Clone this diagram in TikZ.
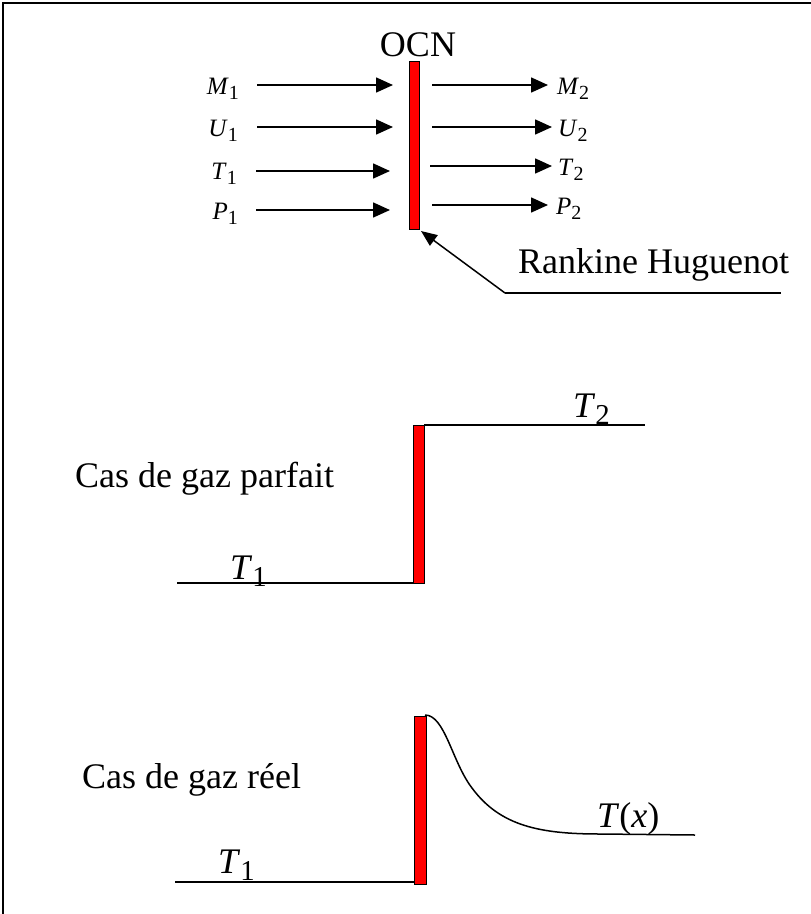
\documentclass[tikz,border=0pt]{standalone}
\usepackage{fontspec}
\setmainfont{Liberation Serif}
\usetikzlibrary{arrows.meta}
\newcommand\vlab[2]{\textit{#1}\raisebox{-0.22em}{\scalebox{0.8}{#2}}}
\tikzset{
  bar/.style={draw=black, fill=red, line width=1pt},
  flow/.style={line width=1.6pt, -{Triangle[length=17pt,width=15pt]}},
  small/.style={font=\fontsize{25}{28}\selectfont, inner sep=0pt},
  big/.style={font=\fontsize{36}{40}\selectfont, inner sep=0pt},
  curve/.style={line width=1.5pt},
}
\begin{document}
\begin{tikzpicture}[x=1pt,y=-1pt]
\useasboundingbox (0,0) rectangle (811,914);
% frame
\draw[line width=2.5pt] (3,914) -- (3,3) -- (811,3);

% ---------- top ----------
\node[big, anchor=base] (ocn) at (418,56) {OCN};
\draw[bar] (409,61) rectangle (419,229);
\coordinate (barbr) at (421,231);

\foreach \y/\s/\e/\nm in {85/257/393/M, 127/257/393/U, 171/256/390/T, 210/256/390/P}{
  \coordinate (l\nm s) at (\s,\y);
  \coordinate (l\nm e) at (\e,\y);
  \draw[flow] (l\nm s) -- (l\nm e);
}
\node[small, anchor=base east] (m1) at (239,94) {\vlab{M}{1}};
\node[small, anchor=base east] (u1) at (238,136) {\vlab{U}{1}};
\node[small, anchor=base east] (t1) at (237,179) {\vlab{T}{1}};
\node[small, anchor=base east] (p1) at (238,219) {\vlab{P}{1}};

\foreach \y/\s/\e/\nm in {85/432/548/M, 127/432/552/U, 166/430/552/T, 205/432/548/P}{
  \coordinate (r\nm s) at (\s,\y);
  \coordinate (r\nm e) at (\e,\y);
  \draw[flow] (r\nm s) -- (r\nm e);
}
\node[small, anchor=base west] (m2) at (557,94) {\vlab{M}{2}};
\node[small, anchor=base west] (u2) at (558,136) {\vlab{U}{2}};
\node[small, anchor=base west] (t2) at (558,175) {\vlab{T}{2}};
\node[small, anchor=base west] (p2) at (556,214) {\vlab{P}{2}};

\coordinate (rh) at (505,293);
\coordinate (rhe) at (781,293);
\draw[curve] (rh) -- (rhe);
\draw[line width=1.5pt, -{Triangle[length=16pt,width=13pt]}] (rh) -- (barbr);
\node[big, anchor=base west] (rank) at (518,273) {Rankine Huguenot};

% ---------- middle ----------
\draw[bar] (413,425) rectangle (424,583);
\coordinate (mt) at (424,425);
\coordinate (mte) at (645,425);
\coordinate (mb) at (413,583);
\coordinate (mbs) at (177,583);
\draw[curve] (mt) -- (mte);
\draw[curve] (mbs) -- (mb);
\node[big, anchor=base west] (mt2) at (573,417) {\vlab{T}{2}};
\node[big, anchor=base west] (mt1) at (230,579) {\vlab{T}{1}};
\node[big, anchor=base west] (parf) at (75,487) {Cas de gaz parfait};

% ---------- bottom ----------
\draw[bar] (414,716) rectangle (426,884);
\coordinate (bb) at (414,882);
\coordinate (bbs) at (175,882);
\coordinate (bt) at (425,715);
\coordinate (be) at (695,835);
\draw[curve] (bbs) -- (bb);
\draw[curve] (bt) .. controls (445,715) and (452,762) .. (472,788)
  .. controls (500,826) and (540,834) .. (600,834) -- (be);
\node[big, anchor=base west] (bt1) at (218,873) {\vlab{T}{1}};
\node[big, anchor=base west] (tx) at (597,827) {\textit{T}(\textit{x})};
\node[big, anchor=base west] (reel) at (82,788) {Cas de gaz réel};
\end{tikzpicture}
\end{document}
